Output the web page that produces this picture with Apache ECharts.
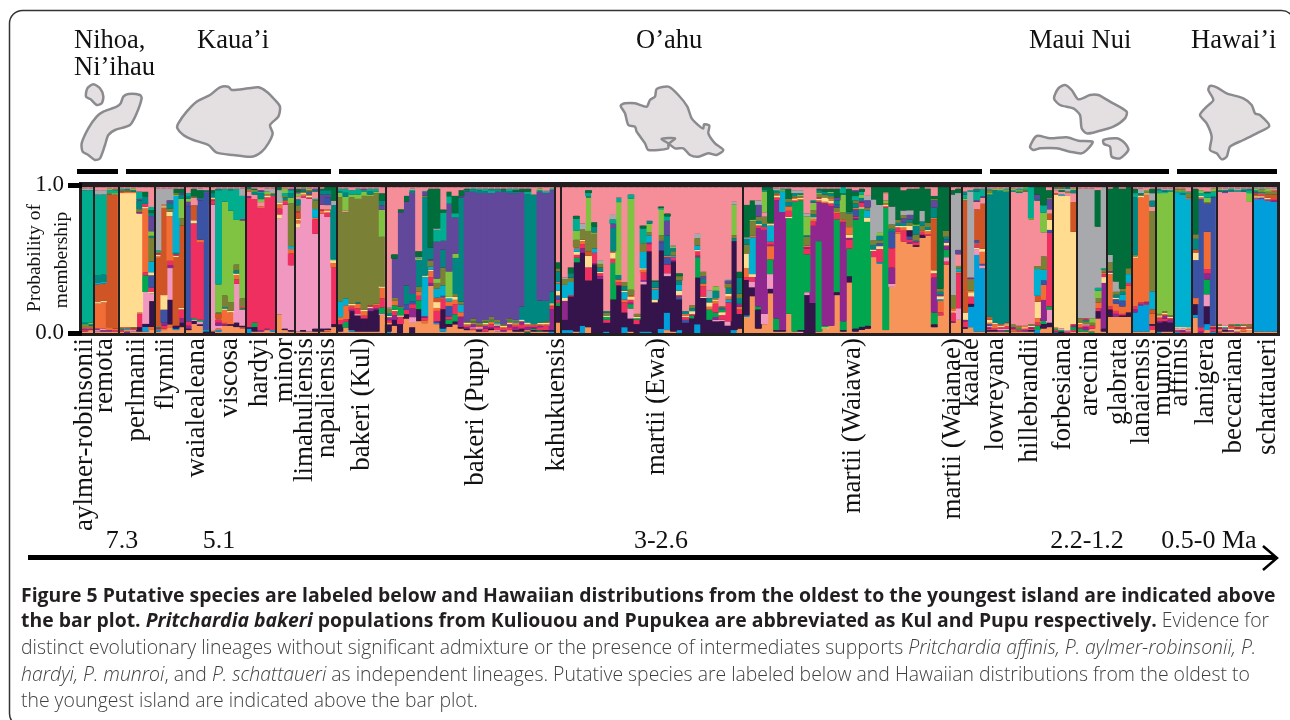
<!DOCTYPE html>
<html>
<head>
<meta charset="utf-8">
<style>
  html, body { margin: 0; padding: 0; background: #fff; }
  #main { width: 1290px; height: 720px; }
</style>
<script src="https://cdn.jsdelivr.net/npm/echarts@6/dist/echarts.min.js"></script>
</head>
<body>
<div id="main"></div>
<script>
// membership of each individual, bottom to top: cluster letter + percent
const clusterColors = {
  a: '#f7945a', b: '#009edb', c: '#00b0d0', d: '#34144a', e: '#a7a9ac',
  g: '#00a74f', i: '#62489b', k: '#006e3b', l: '#80c241', m: '#90278e',
  n: '#00ae8f', o: '#f26c36', p: '#f198c1', q: '#00877f', r: '#ee2f60',
  s: '#f68e99', t: '#cf5527', u: '#3a53a4', v: '#7a8035', y: '#ffdc90'
}

const aylmerRobinsonii = [
  'a1 r1 m1 o1 v1 l1 q1 n91 e1 s1', 'a2 m1 o1 v1 q1 l1 n91 e1 s1'
]
const remota = [
  'a1 p1 m1 o17 y1 t12 c1 q5 n55 e3 s2', 'a1 m1 p1 o18 y1 t12 c1 q5 n55 e3 s2',
  'a1 m1 o2 t91 v1 n2 l1 s1', 'a1 r1 o1 t91 l1 n2 v1 s1'
]
const perlmanii = [
  'a1 r1 q1 o1 y91 t1 v1 n1 s1', 'm1 a1 b1 o1 y91 o1 v1 q1 s1', 'a1 p1 r1 v1 y91 o1 q1 l1 s1',
  'a1 d3 r9 o1 y68 m1 v2 q6 i1 n5 s3', 'a1 b3 d2 p21 g11 r2 o42 y1 r2 q5 k3 s3',
  'a2 o2 d17 p5 y1 r3 u8 y2 c7 v16 q1 l3 i10 q2 k2 n2 s13'
]
const flynnii = [
  'a1 b1 r1 q1 t47 o1 y1 r1 v1 n1 e42 s1', 'a2 o1 r2 m2 u9 y10 t60 y1 o1 e11 s1',
  'a4 o2 d17 p22 m2 r3 o31 y3 v2 q4 i2 e8 s1', 'a2 b1 d2 t47 y1 r1 q1 c39 l1 v1 k3 s1',
  'a4 d3 m3 r6 y1 t56 v5 l13 q3 i1 k3 s1'
]
const waialealeana = [
  'a2 d1 m2 r3 u79 i3 l2 q2 n2 s4', 'a6 d2 p1 g1 r63 y2 t10 s5 v1 k5 s1',
  'a5 d1 p2 g1 r53 o2 u27 i1 q1 k5 e1 s1', 'd1 b1 u93 i1 q1 s2'
]
const viscosa = [
  'd1 a1 p86 r3 t1 y1 q3 k2 s2', 'a1 b1 o1 p2 m2 r2 o1 t3 v1 l19 n64 q1 s1',
  'a5 m1 r1 o9 y1 q1 v8 l65 n9 s1', 'a5 d1 o8 y1 v6 l62 n14 q1 s1',
  'a4 d3 p26 r3 o3 y1 q2 v4 l30 n21 s1', 'a3 o1 d1 p11 g1 r1 v6 l54 m1 n16 e5 s1'
]
const hardyi = [
  'b3 d1 r89 m1 s3 o1 v1 q1', 'a1 d3 g3 r84 s3 q2 l1 k1 s1',
  'a1 m1 r82 o1 s3 l2 q4 n1 i1 s2', 'a2 m1 r90 y1 o1 l2 e2 s1', 'a1 b1 r91 q1 v1 e3 s1'
]
const minor = [
  'a13 p67 y3 r4 o3 y1 e9 k2', 'a2 d1 p85 r2 o1 q2 v1 n2 l3 s1',
  'a1 d1 p44 r8 o3 c2 v29 l4 q3 n2 i1 s1'
]
const limahuliensis = [
  'a1 p69 y3 o2 y1 t4 r1 v4 q4 s2 l2 i1 k2 s1', 'a1 d1 p91 r1 o1 y1 v1 q1 i1 l1',
  'a1 p91 r1 y1 o1 q1 i1 v1 l1 s1', 'a1 d2 p65 r10 o1 c6 v6 n1 s5 q1 i1 s1'
]
const napaliensis = [
  'a1 d2 p78 o2 r1 s3 i7 q3 k1 s1', 'a1 o1 d1 p75 r3 y1 o1 s3 u5 i2 q3 k2',
  'a4 d2 r38 o3 y2 n1 q36 e3 k9'
]
const bakeriKul = [
  'a1 d5 r3 o2 c11 v72 l3 q1 n2 s1', 'a4 g4 r2 o10 c5 v62 s1 l10 q3 n3 s1',
  'a1 b1 d13 m1 r2 o1 y1 v73 l2 n3 s2', 'a1 d11 p1 r4 o3 q1 v71 l3 n4 s1',
  'a1 d9 r2 o3 y1 v79 l3 n1 i1 s1', 'a1 d14 m2 y1 r1 v75 l1 q2 n2 s1',
  'a1 d15 m1 r2 o1 v76 l1 n2 s1', 'a12 p1 g4 r6 o7 y1 v33 l18 i3 q3 k5 s4'
]
const bakeriPupu = [
  'b1 d5 a1 r2 m2 y1 q2 v3 e1 s84', 'a5 d4 m3 r3 y1 g3 o3 v2 i27 k3 s46',
  'd6 r5 y1 g5 v1 i64 k2 s15', 'a10 d3 r3 u4 q13 i58 k4 s6',
  'd4 a3 p4 m6 r3 u2 q5 i70 q1 n1 e1 s1', 'a8 d8 g6 r3 o3 v3 q18 l1 e1 k4 s43',
  'a7 o2 r2 m1 c28 y1 q56 v1 i3 e1 s2', 'a32 m2 r4 o4 y1 c2 v4 i1 q8 k40 s1',
  'a6 b1 m1 r7 o2 y4 t3 c6 v4 l3 i25 n8 e1 k27 s1', 'a1 b2 d13 r7 o1 u1 c7 v12 q12 i6 n19 k2 s15',
  'a4 d2 g3 r2 u7 o3 c2 y1 l17 i45 n5 k3 s3', 'a6 d2 g5 r7 o3 y2 v2 q25 l3 i25 n3 k12 s6',
  'a3 d1 m7 o3 c5 v2 q70 i1 k4 s2', 'a2 d1 m1 r1 o1 y1 v1 i90 q1 k1 s1',
  'a2 r1 p1 m2 o1 g1 v2 i87 n1 q1 e1', 'a1 d1 m1 y1 r1 v2 i89 q2 n1 s1',
  'a1 r2 m2 o1 y1 g1 v1 i88 q1 n2 s1', 'a2 d1 m1 r2 o2 g1 v2 i85 n2 q1 s1',
  'a1 p1 r2 m1 y1 c1 v2 i88 n1 q1 s1', 'a1 m1 r1 o1 y1 v1 i91 q1 k1 s1',
  'a2 r2 m2 y1 o1 g1 v1 i86 q1 n2 s1', 'a1 d1 m2 r1 o2 c1 v1 i87 q1 k1 n1 s1',
  'a1 d2 r3 m2 y1 c1 q8 i79 k2 s1', 'k1 a1 m2 r1 o1 y1 c1 q87 n2 k2 s1',
  'a1 d1 g1 m1 r1 o1 q88 s5', 'a1 k1 r2 m1 o1 y1 q15 i74 n1 l1 s1',
  'a1 d1 r3 o1 y1 v1 q14 i74 n1 e1 s2', 'b1 d1 m14 r2 o1 y1 q8 i68 n1 s1'
]
const kahukuensis = ['a7 d11 g2 r2 u3 y3 c5 o1 q7 v2 k4 s50']
const martiiEwa = [
  'b2 d7 m13 y2 c9 v4 e1 s62', 'b2 d23 r1 c9 v3 q3 k4 s55',
  'a1 d46 g3 r2 y2 c2 o1 v5 l6 n8 k2 s19', 'b5 d50 m3 r3 o2 y1 v7 e4 s25',
  'a4 d32 r9 y8 t3 v14 l23 q1 n2 k2 s2', 'd47 m1 r7 c3 v10 l1 q4 k3 s24',
  'd37 m2 r2 y1 q3 v2 l1 e2 s50', 'b1 d6 r2 g2 y1 v2 q1 s85',
  'd23 g25 r3 y4 o1 q16 i3 n3 e3 s19', 'd32 r2 o2 q3 l49 n3 s7',
  'b4 d10 r7 o2 c5 y1 q3 v3 s65', 'a1 d9 p7 g3 m1 r2 y2 o1 v4 l63 n3 s5',
  'd6 r3 g1 y1 v2 s86', 'b1 d32 p2 m1 r5 o2 y1 c11 v6 n10 k2 s26',
  'b1 d55 r5 m1 c5 v2 l6 q2 s23', 'd21 y2 c7 o1 q4 k1 s64',
  'b3 d57 u6 i1 v4 l19 n1 k1 s14', 'a2 b12 d25 p2 r6 u5 o1 q14 i10 n3 k2 s18',
  'a1 d47 m1 r2 c1 v3 q2 l1 e1 s39', 'b2 d21 u2 r1 y3 c4 q3 v3 k2 s59',
  'd7 u2 r2 y1 o1 q2 s85', 'd10 g2 r1 y2 q2 v2 s81',
  'b6 d32 g14 m1 r3 y1 c3 v5 e3 s32', 'd24 y1 r7 o2 q3 i2 v3 s58',
  'd9 g7 o2 y3 q3 e5 s71', 'd8 p1 m2 g3 r6 o2 y1 v1 q5 l3 s68',
  'd8 p1 r3 y2 g2 u1 v1 s80', 'd5 p3 r13 c2 o2 y2 q4 v3 i2 e1 s63',
  'b2 d61 q2 v2 l21 e2 s10', 'a3 d10 r3 o2 m2 q4 v3 q11 k4 s58'
]
const martiiWaiawa = [
  'a11 b1 d24 r2 o6 y10 v6 q4 e1 k22 s12', 'a25 d6 p4 r3 y2 c25 o1 v10 l1 k13 s9',
  'a3 d13 g2 m53 r2 y1 q2 v3 i8 e3 s9', 'a6 p7 m57 r2 q2 v5 s3 l14 n1 k2',
  'a27 d3 p10 g10 o9 m1 r2 c11 y1 v1 k24', 'a1 d1 g8 m81 r2 y1 o1 v1 q1 n1 e1 s1',
  'a1 d1 m81 c14 l1 n1 s1', 'a13 g65 y1 r4 o3 q3 v2 k7 s1',
  'a1 g88 r1 y1 o1 v1 q2 e2 s2', 'p1 d1 g88 o1 y1 v1 l1 q1 e2 s2',
  'd26 p2 g26 r4 m1 o1 v6 q1 l13 e2 s18', 'd21 m54 r3 o2 y1 q2 v3 l5 i1 n1 s9',
  'a1 g62 m27 o1 y1 r1 v2 l1 q2 k1 s1', 'a3 y1 g1 m84 o1 y3 v2 q2 k2 s1',
  'a5 m81 r2 y2 o1 v2 q2 l1 k2 s1', 'a26 d2 g50 r4 o1 v3 u2 q3 i2 k6 s1',
  'a1 d1 g6 m68 r1 o1 v5 l12 q1 n4', 'a33 d4 g18 r6 m1 y2 o5 v9 q1 k15 s1',
  'a1 d2 g74 m1 r1 u5 o1 q3 v2 n3 k3 i1 s2', 'a2 d2 g77 y1 r3 m1 q2 l2 n2 k2 s1',
  'a3 d2 g72 y3 c5 v2 i5 e3 s6', 'a50 r4 y1 q3 v3 e27 k8',
  'a47 c1 r9 y2 u2 v2 q3 l2 e19 k12', 'a2 g83 r1 y1 o1 l2 s5 v1 k3',
  'a31 p2 m11 r13 u11 q2 v3 e12 k13', 'a67 o1 r3 y1 q2 v2 k22',
  'a59 r7 o2 y1 q2 i3 v2 e3 k13 s2', 'a58 m1 r2 u2 d4 y3 v2 q2 i3 e3 k14 s1',
  'a58 d1 r2 u1 v4 q6 l1 k24 s1', 'a64 d2 r2 o1 v3 q3 e7 k16',
  'a66 r1 o2 y1 q2 v3 k23 s1', 'a4 d2 g8 m24 r3 y2 t35 o1 q7 i5 v1 k2 s6',
  'a12 r2 o8 c1 y2 m1 q2 v2 k69', 'a47 r2 p3 g5 m3 y2 u2 q2 v4 k30'
]
const martiiWaianae = [
  'a7 m1 r6 y1 o2 v9 e69 k3 s2', 'a9 p8 r24 o1 c2 v2 s8 i3 e39 k3 s1'
]
const kaalae = [
  'a3 d1 r4 m1 y5 t77 l1 n3 q2 s3', 'a4 b14 d2 r5 y3 o1 v8 m1 e59 n1 s2',
  'a1 b52 p4 y1 r2 o1 u2 t21 s5 m1 n6 q2 s1', 'a1 b42 p2 u1 o8 y2 t30 s4 i1 n5 s1'
]
const lowreyana = [
  'a1 d1 r1 m1 p1 u1 o1 y2 t2 q84 l1 v2 n1 s1', 'a1 d1 r1 o3 y1 q90 l1 s1',
  'a1 m1 p1 r1 y1 o1 q91 n1 l1 s1', 'a1 k1 p1 r2 y1 o1 q90 l1 n1 s1'
]
const hillebrandii = [
  'a1 o1 r1 m1 v2 s90 n1 l1 s1', 'a1 r1 g1 o1 v1 s91 q1 l1 n1 s1',
  'a1 m1 r1 y1 o1 s91 v1 n1 l1', 'a1 d1 r1 m1 y1 v1 s71 l1 n21',
  'b2 g3 r2 o3 y11 t4 c18 v2 s44 q1 i3 k5', 'a3 d3 g2 m14 o10 u3 c7 v9 s16 l13 n5 k12',
  'a4 d3 p9 g2 r50 u2 y7 t4 s3 i7 v1 k5 s2'
]
const forbesiana = [
  'u1 r1 g1 a1 y90 t1 s2 e1 v1', 'd1 g1 p1 y90 c1 s2 k1 e1 v1',
  'r1 p1 y92 s2 v1 e2 q1', 'a1 r1 g2 m1 r1 y62 t20 s6 q2 l1 s1'
]
const arecina = [
  'a1 g2 r1 o2 y1 v3 e87 s1', 'a1 g1 m2 r1 p1 v2 q1 r1 e88 s1',
  'g1 a2 r2 v2 l3 e89 s1', 'a10 d5 r2 o4 v3 l5 n2 e42 k25 s2',
  'a1 d2 m31 y4 r2 o1 v2 n1 e55'
]
const glabrata = [
  'a11 d5 r2 o22 y1 m1 v6 e5 k45 s1', 'a11 m2 r2 o5 u3 y1 q2 v2 e7 k64',
  'a11 d1 r1 o5 u4 c4 q2 v2 k68 s1', 'a11 d3 o18 r2 c6 v4 k55'
]
const lanaiensis = [
  'a1 b13 m2 r2 o33 y1 v1 q39 n3 k3 s1', 'a1 b18 m1 r1 o72 y1 v1 q1 e3 s1',
  'a1 b18 r1 m1 o72 y1 v1 l1 s2', 'a2 r3 d1 o7 t3 c12 v54 s3 q4 e5 k3 s1'
]
const munroi = [
  'b1 d6 m1 r2 o1 y1 v1 l82 n2 q1 s1', 'a1 d7 r2 m2 o1 y1 v1 l81 n1 q1 e1 s1',
  'a1 d6 m2 r1 y1 v1 l83 n1 e1 s1'
]
const affinis = [
  'b1 r1 p1 y1 c91 n1 l1 v1 s1', 'r1 m1 p1 y1 c90 q1 n1 l1 v1 s1',
  'r1 p1 o1 y1 c88 o1 v3 n1 s3'
]
const lanigera = [
  'a10 b2 d7 o4 u25 y5 t2 q7 v3 k30 s1', 'm1 r3 u88 o1 y1 n2 l2 s2',
  'a2 b4 d12 p8 g10 m4 r3 o25 u19 v1 l3 n3 k1 s3', 'b1 r2 m1 o1 u88 q1 n3 l2 s1'
]
const beccariana = [
  'r1 a1 o1 m1 y1 v1 s90 q1 l1 s1', 'a1 d1 r1 c1 y1 s90 i1 q1 e1 s1',
  'a1 m1 y1 o1 r1 v1 s91 q1 n1 s1', 'r1 y1 a1 m1 o1 g1 s91 n1 e1 s1',
  'a1 o2 r1 y1 v1 s90 q1 n1 s1', 'a2 y1 r1 v2 s83 l6 n2 q1 s1'
]
const schattaueri = [
  'a1 b89 r1 y1 t1 v1 m1 n1 l1 e1', 'a1 b89 m1 y1 r1 o1 q1 l1 v1 e1',
  'a1 b87 r1 y1 t2 v2 l2 s1', 'a1 b88 m1 r1 t3 v2 o1 e1 s1'
]

const speciesGroups = [
  aylmerRobinsonii, remota, perlmanii, flynnii, waialealeana, viscosa, hardyi, minor,
  limahuliensis, napaliensis, bakeriKul, bakeriPupu, kahukuensis, martiiEwa, martiiWaiawa,
  martiiWaianae, kaalae, lowreyana, hillebrandii, forbesiana, arecina, glabrata, lanaiensis,
  munroi, affinis, lanigera, beccariana, schattaueri
]
const speciesNames = [
  'aylmer-robinsonii', 'remota', 'perlmanii', 'flynnii', 'waialealeana', 'viscosa', 'hardyi', 'minor',
  'limahuliensis', 'napaliensis', 'bakeri (Kul)', 'bakeri (Pupu)', 'kahukuensis', 'martii (Ewa)', 'martii (Waiawa)',
  'martii (Waianae)', 'kaalae', 'lowreyana', 'hillebrandii', 'forbesiana', 'arecina', 'glabrata', 'lanaiensis',
  'munroi', 'affinis', 'lanigera', 'beccariana', 'schattaueri'
]
const ageLabels = ['7.3', '5.1', '3-2.6', '2.2-1.2', '0.5-0 Ma']
const islandNames = ['Nihoa,', 'Ni’ihau', 'Kaua’i', 'O’ahu', 'Maui Nui', 'Hawai’i']

// layout
const speciesLabelX = [85, 105, 137, 166, 197, 230, 260, 285, 305, 327, 362, 476, 557, 657, 853, 953, 971, 996, 1030, 1063, 1090, 1119, 1142, 1163, 1180, 1206, 1234, 1268]
const ageLabelX = [122, 219, 661, 1087, 1209]
const islandLabelPos = [[74, 41], [74, 68], [197, 41], [636, 41], [1029, 41], [1191, 41]]
const islandBars = [[77, 118], [126, 331], [339, 982], [990, 1169], [1177, 1277]]
const islandShapes = [
  [0, 0, [262,265,280,253,300,265,310,290,305,310,290,315,272,298,258,290]],
  [0, 0, [370,290,385,282,420,285,425,295,410,340,390,375,345,390,325,405,315,435,300,475,285,480,265,465,248,455,245,430,265,385,290,350,310,335,350,320,362,310]],
  [0, 0, [535,370,560,335,590,305,630,285,660,262,685,260,695,270,745,265,775,262,800,275,825,300,840,320,835,350,810,375,818,400,805,430,785,455,755,470,700,465,650,458,625,435,580,420,550,405,532,385]],
  [600, 85, [62,62,75,55,105,55,140,65,150,45,165,35,170,12,205,5,235,30,262,65,275,100,300,125,310,130,312,118,328,122,325,145,345,175,370,195,350,210,325,205,295,215,270,210,250,190,225,190,205,175,185,162,225,160,205,178,205,190,145,195,135,175,110,140,105,125,85,120,75,85]],
  [950, 0, [312,295,325,265,345,255,365,270,385,298,420,285,445,285,480,305,530,335,525,355,490,380,440,395,410,400,395,385,390,345,370,325,330,315]],
  [950, 0, [240,440,260,408,300,415,350,412,385,422,428,425,415,445,395,460,360,455,320,445,270,445,250,450]],
  [950, 0, [460,420,500,415,525,430,535,450,510,475,485,470,480,440,462,432]],
  [950, 0, [780,258,800,262,830,280,880,295,905,315,915,340,930,345,958,378,920,400,880,420,840,440,830,470,815,478,800,460,780,450,785,410,770,370,750,345,770,320,790,300,775,270]]
]

const serif = '"Liberation Serif", "Times New Roman", serif'
const columnTop = 0.985

const columns = speciesGroups.flat().map(col => col.split(' ').map(tok => ({
  key: tok[0],
  pct: Number(tok.slice(1))
})))
const layerCount = Math.max(...columns.map(c => c.length))

// each column keeps its own bottom-to-top order, so one series per layer
const barSeries = []
for (let i = 0; i < layerCount; i++) {
  barSeries.push({
    type: 'bar',
    stack: 'membership',
    barWidth: 7,
    silent: true,
    data: columns.map(col => {
      const seg = col[i]
      if (!seg) return 0
      const total = col.reduce((sum, s) => sum + s.pct, 0)
      return { value: seg.pct / total * columnTop, itemStyle: { color: clusterColors[seg.key] } }
    })
  })
}

// species boundaries
const boundaries = []
let running = 0
speciesGroups.slice(0, -1).forEach(g => {
  running += g.length
  boundaries.push({ xAxis: running })
})

function textEl(text, x, y, opt) {
  return {
    type: 'text',
    x: x,
    y: y,
    rotation: opt.rotation || 0,
    style: {
      text: text,
      fill: '#111',
      font: opt.font,
      align: opt.align || 'left',
      verticalAlign: 'middle',
      textAlign: opt.align || 'left',
      textVerticalAlign: 'middle'
    }
  }
}

const graphics = []

// rounded panel around figure and caption
graphics.push({
  type: 'rect',
  shape: { x: 9.5, y: 10.5, width: 1285, height: 716, r: 13 },
  style: { fill: 'none', stroke: '#333', lineWidth: 1.5 }
})

islandShapes.forEach(([ox, oy, pts]) => {
  const points = []
  for (let i = 0; i < pts.length; i += 2) points.push([ox + pts[i] / 3, oy + pts[i + 1] / 3])
  graphics.push({
    type: 'polygon',
    shape: { points: points, smooth: 0.25 },
    style: { fill: '#e4e0e1', stroke: '#8b8b8f', lineWidth: 2.5, lineJoin: 'round' }
  })
})

islandBars.forEach(([x1, x2]) => {
  graphics.push({ type: 'rect', shape: { x: x1, y: 169, width: x2 - x1, height: 5 }, style: { fill: '#000' } })
})

islandNames.forEach((name, i) => {
  graphics.push(textEl(name, islandLabelPos[i][0], islandLabelPos[i][1], { font: '26.5px ' + serif }))
})

speciesNames.forEach((name, i) => {
  graphics.push(textEl(name, speciesLabelX[i], 338, { font: '27px ' + serif, align: 'right', rotation: Math.PI / 2 }))
})

ageLabels.forEach((label, i) => {
  graphics.push(textEl(label, ageLabelX[i], 541, { font: '26px ' + serif, align: 'center' }))
})

graphics.push(textEl('Probability of', 35, 258, { font: '19.5px ' + serif, align: 'center', rotation: Math.PI / 2 }))
graphics.push(textEl('membership', 62, 260, { font: '19.5px ' + serif, align: 'center', rotation: Math.PI / 2 }))

// time arrow
graphics.push({ type: 'rect', shape: { x: 28, y: 555, width: 1247, height: 5 }, style: { fill: '#000' } })
graphics.push({
  type: 'polyline',
  shape: { points: [[1263, 546], [1277, 558], [1263, 570]] },
  style: { fill: 'none', stroke: '#000', lineWidth: 2.5 }
})

// caption
const captionLines = [
  '{b|Figure 5 Putative species are labeled below and Hawaiian distributions from the oldest to the youngest island are indicated above}',
  '{b|the bar plot. }{bi|Pritchardia bakeri}{b| populations from Kuliouou and Pupukea are abbreviated as Kul and Pupu respectively.}{r| Evidence for}',
  '{r|distinct evolutionary lineages without significant admixture or the presence of intermediates supports }{i|Pritchardia affinis, P. aylmer-robinsonii, P.}',
  '{i|hardyi, P. munroi}{r|, and }{i|P. schattaueri}{r| as independent lineages. Putative species are labeled below and Hawaiian distributions from the oldest to}',
  '{r|the youngest island are indicated above the bar plot.}'
]
const captionY = [596, 621, 648, 675, 701]
const capFont = { fontFamily: '"Open Sans", sans-serif', fontSize: 19.4 }
captionLines.forEach((line, i) => {
  graphics.push({
    type: 'text',
    x: 21,
    y: captionY[i],
    style: {
      text: line,
      verticalAlign: 'middle',
      textVerticalAlign: 'middle',
      rich: {
        b: { ...capFont, fontWeight: 'bold', fill: '#231f20' },
        bi: { ...capFont, fontWeight: 'bold', fontStyle: 'italic', fill: '#231f20' },
        r: { ...capFont, fontWeight: 300, fill: '#3f3f3f' },
        i: { ...capFont, fontWeight: 300, fontStyle: 'italic', fill: '#3f3f3f' }
      }
    }
  })
})

const chart = echarts.init(document.getElementById('main'), null, { renderer: 'canvas' })
chart.setOption({
  animation: false,
  backgroundColor: '#fff',
  grid: {
    left: 82,
    top: 185,
    width: 1195,
    height: 148,
    show: true,
    backgroundColor: '#231f20',
    borderColor: '#231f20',
    borderWidth: 6
  },
  xAxis: [
    { type: 'category', data: columns.map((c, i) => i), show: false },
    { type: 'value', min: 0, max: columns.length, show: false }
  ],
  yAxis: {
    type: 'value',
    min: 0,
    max: 1,
    interval: 1,
    axisLine: { show: false },
    axisTick: { show: true, length: 14, lineStyle: { color: '#000', width: 5 } },
    splitLine: { show: false },
    axisLabel: {
      margin: 18,
      color: '#111',
      fontFamily: serif,
      fontSize: 23,
      formatter: v => v.toFixed(1)
    }
  },
  series: barSeries.concat([{
    type: 'line',
    xAxisIndex: 1,
    data: [],
    silent: true,
    markLine: {
      silent: true,
      symbol: 'none',
      label: { show: false },
      lineStyle: { color: '#231f20', width: 2, type: 'solid' },
      data: boundaries
    }
  }]),
  graphic: graphics
})
</script>
</body>
</html>
